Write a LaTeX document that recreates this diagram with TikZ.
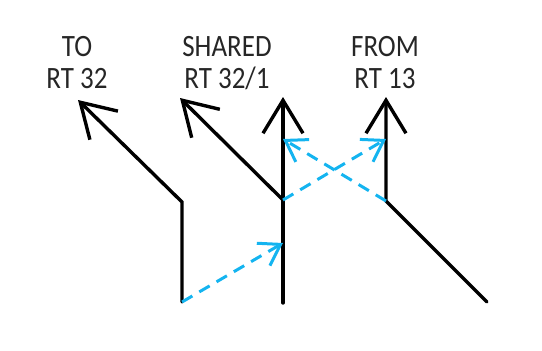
\documentclass[tikz,border=0pt]{standalone}
\usepackage{fontspec}
\setmainfont{Carlito}
\usetikzlibrary{arrows.meta}
\definecolor{ltblue}{RGB}{20,180,240}
\tikzset{
  route/.style={line width=3.4pt, black, line cap=round, line join=miter,
    -{Straight Barb[length=33pt, width=40pt, line width=3.4pt]}},
  plainroute/.style={line width=3.4pt, black, line cap=round},
  move/.style={line width=3pt, ltblue, dash pattern=on 12pt off 8pt,
    -{Straight Barb[length=20pt, width=26pt, line width=3pt]}},
  lbl/.style={font=\fontsize{27}{33}\selectfont, align=center, text=black!85, inner sep=0pt}
}
\begin{document}
\begin{tikzpicture}[x=1pt,y=-1pt]
\useasboundingbox (0,0) rectangle (542,351);
% coordinates
\coordinate (a0) at (182,302);
\coordinate (a1) at (182,202);
\coordinate (a2) at (78,100);
\coordinate (b1) at (283,200);
\coordinate (b2) at (180,98);
\coordinate (c0) at (283,303);
\coordinate (c2) at (283,97);
\coordinate (cm) at (283,243);
\coordinate (cu) at (283,139);
\coordinate (d0) at (487,302);
\coordinate (d1) at (386,201);
\coordinate (d2) at (386,97);
\coordinate (du) at (386,139);
% labels
\node[lbl] (t1) at (77,63) {\scalebox{1}[1.15]{TO}\\[-1pt]\scalebox{1}[1.15]{RT 32}};
\node[lbl] (t2) at (227,63) {\scalebox{1}[1.15]{SHARED}\\[-1pt]\scalebox{1}[1.15]{RT 32/1}};
\node[lbl] (t3) at (385,63) {\scalebox{1}[1.15]{FROM}\\[-1pt]\scalebox{1}[1.15]{RT 13}};
% black routes
\draw[route] (a0) -- (a1) -- (a2);
\draw[route] (b1) -- (b2);
\draw[route] (c0) -- (c2);
\draw[route] (d0) -- (d1) -- (d2);
% blue moves
\draw[move] (a0) -- (cm);
\draw[move] (b1) -- (du);
\draw[move] (d1) -- (cu);
\end{tikzpicture}
\end{document}
